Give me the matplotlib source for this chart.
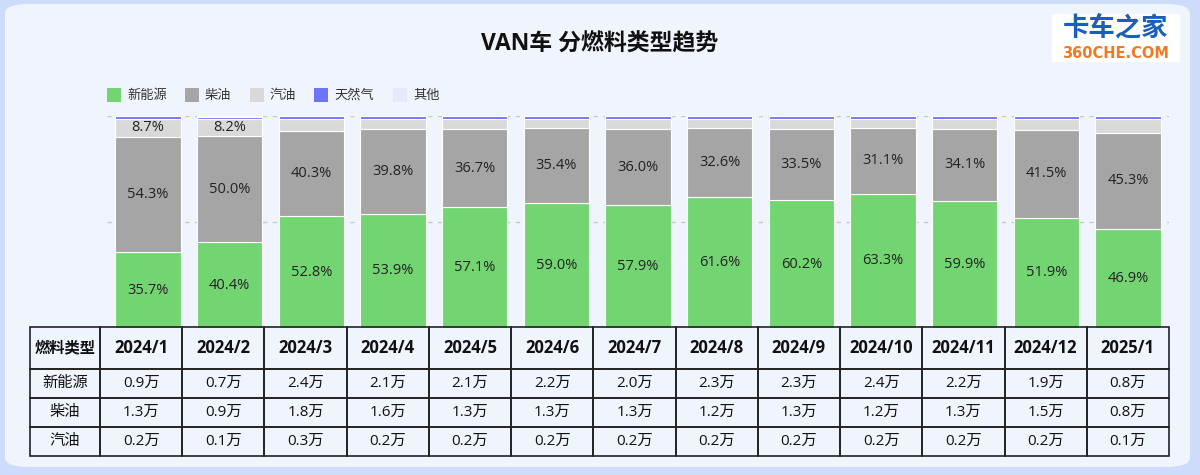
import matplotlib
matplotlib.use("Agg")
import matplotlib.pyplot as plt
from matplotlib.patches import FancyBboxPatch, Rectangle
import numpy as np

plt.rcParams['font.family'] = ['Open Sans', 'Noto Sans CJK SC', 'DejaVu Sans']

months = ["2024/1", "2024/2", "2024/3", "2024/4", "2024/5", "2024/6", "2024/7",
          "2024/8", "2024/9", "2024/10", "2024/11", "2024/12", "2025/1"]
series_names = ["新能源", "柴油", "汽油", "天然气", "其他"]
new_energy = [35.7, 40.4, 52.8, 53.9, 57.1, 59.0, 57.9, 61.6, 60.2, 63.3, 59.9, 51.9, 46.9]
diesel = [54.3, 50.0, 40.3, 39.8, 36.7, 35.4, 36.0, 32.6, 33.5, 31.1, 34.1, 41.5, 45.3]
gasoline = [8.7, 8.2, 5.7, 5.1, 5.0, 4.4, 4.9, 4.6, 5.1, 4.4, 4.8, 5.4, 6.6]
natural_gas = [1.1, 1.1, 1.0, 1.0, 1.0, 1.0, 1.0, 1.0, 1.0, 1.0, 1.0, 1.0, 1.0]
other = [0.2, 0.3, 0.2, 0.2, 0.2, 0.2, 0.2, 0.2, 0.2, 0.2, 0.2, 0.2, 0.2]
gasoline_label_months = ["2024/1", "2024/2"]

table_rows = ["新能源", "柴油", "汽油"]
table_ne = ["0.9万", "0.7万", "2.4万", "2.1万", "2.1万", "2.2万", "2.0万", "2.3万", "2.3万", "2.4万", "2.2万", "1.9万", "0.8万"]
table_diesel = ["1.3万", "0.9万", "1.8万", "1.6万", "1.3万", "1.3万", "1.3万", "1.2万", "1.3万", "1.2万", "1.3万", "1.5万", "0.8万"]
table_gas = ["0.2万", "0.1万", "0.3万", "0.2万", "0.2万", "0.2万", "0.2万", "0.2万", "0.2万", "0.2万", "0.2万", "0.2万", "0.1万"]
table_header = "燃料类型"

colors = ["#72d572", "#a5a5a5", "#d9d9d9", "#6e74f6", "#e8e9fb"]

W, H = 1200, 475
fig = plt.figure(figsize=(W / 100, H / 100), dpi=100)
fig.patch.set_facecolor("#cddcfb")

# panel
panel = FancyBboxPatch((5 / W, 8 / H), 1185 / W, 463 / H,
                       boxstyle="round,pad=0,rounding_size=0.02",
                       transform=fig.transFigure, facecolor="#f0f4fd",
                       edgecolor="none", zorder=-10)
fig.patches.append(panel)

# title
fig.text(600 / W, 1 - 45 / H, "VAN车 分燃料类型趋势", ha="center", va="center",
         fontsize=16.5, fontweight="bold", color="#111111")

# logo
fig.patches.append(Rectangle((1052 / W, 1 - 62 / H), 128 / W, 48 / H,
                             transform=fig.transFigure, facecolor="white",
                             edgecolor="none", zorder=-5))
fig.text(1116 / W, 1 - 29 / H, "卡车之家", ha="center", va="center", fontsize=19,
         fontweight="heavy", color="#1c5fb8", family=["Noto Sans CJK SC"])
fig.text(1116 / W, 1 - 54 / H, "360CHE.COM", ha="center", va="center", fontsize=10.5,
         fontweight="bold", color="#f07a22", family=["DejaVu Sans"])

# legend
leg_x = [107, 185, 250, 314, 393]
for name, c, lx in zip(series_names, colors, leg_x):
    fig.patches.append(Rectangle((lx / W, 1 - 102 / H), 14 / W, 14 / H,
                                 transform=fig.transFigure, facecolor=c,
                                 edgecolor="none", zorder=-5))
    fig.text((lx + 20) / W, 1 - 95 / H, name, ha="left", va="center",
             fontsize=9.5, color="#333333")

# bar axes
ax = fig.add_axes([107 / W, 1 - 328 / H, 1062 / W, 212 / H])
ax.set_zorder(5)
ax.patch.set_visible(False)
x = np.arange(len(months))
series = [new_energy, diesel, gasoline, natural_gas, other]
bottom = np.zeros(len(months))
for vals, c in zip(series, colors):
    ax.bar(x, vals, width=0.8, bottom=bottom, color=c, edgecolor="white",
           linewidth=0.8, zorder=3)
    bottom = bottom + np.array(vals)

for i, m in enumerate(months):
    ax.text(i, new_energy[i] / 2, f"{new_energy[i]:.1f}%", ha="center", va="center",
            fontsize=10.5, color="#222222", zorder=4)
    ax.text(i, new_energy[i] + diesel[i] / 2, f"{diesel[i]:.1f}%", ha="center",
            va="center", fontsize=10.5, color="#222222", zorder=4)
    if m in gasoline_label_months:
        ax.text(i, new_energy[i] + diesel[i] + gasoline[i] / 2, f"{gasoline[i]:.1f}%",
                ha="center", va="center", fontsize=10.5, color="#222222", zorder=4)

ax.set_xlim(-0.5, len(months) - 0.5)
ax.set_ylim(0, 100)
for yv in [50, 100]:
    ax.axhline(yv, color="#c8c8c8", linestyle=(0, (3, 4)), linewidth=1, zorder=1)
ax.set_xticks([])
ax.set_yticks([])
for s in ax.spines.values():
    s.set_visible(False)

# table
tax = fig.add_axes([30 / W, 1 - 456 / H, 1139 / W, 129 / H])
tax.set_zorder(6)
tax.axis("off")
cell_text = [[table_header] + months,
             [table_rows[0]] + table_ne,
             [table_rows[1]] + table_diesel,
             [table_rows[2]] + table_gas]
first_w = 70 / 1139
other_w = (1 - first_w) / len(months)
col_widths = [first_w] + [other_w] * len(months)
tbl = tax.table(cellText=cell_text, colWidths=col_widths, bbox=[0, 0, 1, 1],
                cellLoc="center")
tbl.auto_set_font_size(False)
row_h = [42 / 129, 29 / 129, 29 / 129, 29 / 129]
for (r, c), cell in tbl.get_celld().items():
    cell.set_height(row_h[r])
    cell.set_facecolor("none")
    cell.set_edgecolor("#222222")
    cell.set_linewidth(1.2)
    txt = cell.get_text()
    txt.set_fontsize(11)
    txt.set_color("#111111")
    if r == 0:
        txt.set_fontweight("bold")
        txt.set_fontsize(12 if c > 0 else 11)

fig.savefig("out.png", dpi=100, facecolor=fig.get_facecolor())
